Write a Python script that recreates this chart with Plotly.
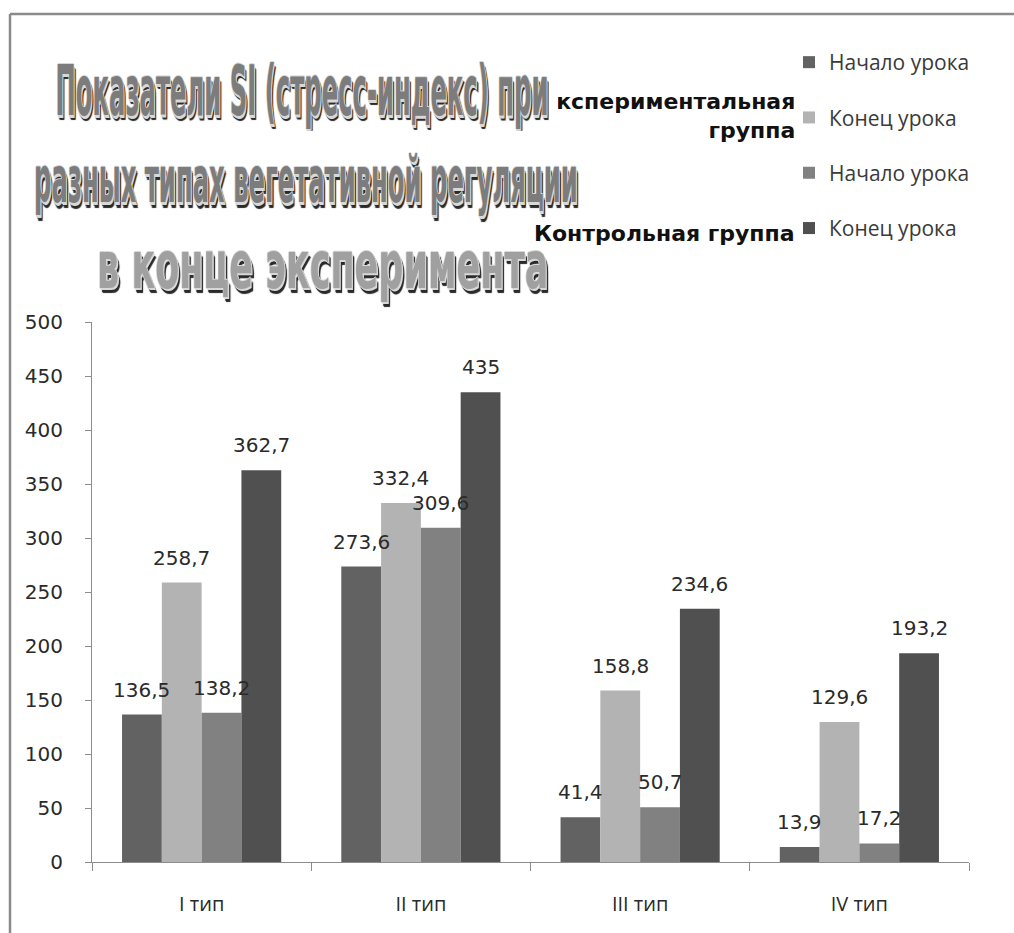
import plotly.graph_objects as go

# --- data -------------------------------------------------------------
categories = ["I тип", "II тип", "III тип", "IV тип"]
exp_start = [136.5, 273.6, 41.4, 13.9]     # Экспериментальная группа, начало урока
exp_end = [258.7, 332.4, 158.8, 129.6]     # Экспериментальная группа, конец урока
ctrl_start = [138.2, 309.6, 50.7, 17.2]    # Контрольная группа, начало урока
ctrl_end = [362.7, 435, 234.6, 193.2]      # Контрольная группа, конец урока
series_names = ["Начало урока", "Конец урока", "Начало урока", "Конец урока"]
y_ticks = [0, 50, 100, 150, 200, 250, 300, 350, 400, 450, 500]

title_lines = [
    "Показатели SI (стресс-индекс) при",
    "разных типах вегетативной регуляции",
    "в конце эксперимента",
]
group_labels = ["Экспериментальная<br>группа", "Контрольная группа"]

# --- layout geometry (pixels) ------------------------------------------
W, H = 1014, 933
PL, PR, PT, PB = 92, 969, 322, 862          # plot area box
BARGAP = 0.274


def px_x(px):
    return (px - PL) / (PR - PL)


def px_y(py):
    return (PB - py) / (PB - PT)


colors = ["#626262", "#b3b3b3", "#818181", "#505050"]
series = [exp_start, exp_end, ctrl_start, ctrl_end]

fig = go.Figure()
for i, (vals, name) in enumerate(zip(series, series_names)):
    fig.add_trace(go.Bar(
        x=categories, y=vals, name=name,
        marker=dict(color=colors[i], line=dict(width=0)),
        legendgroup=f"g{i}",
    ))

annotations = []

# value labels above each bar
cat_w = (PR - PL) / len(categories)
bar_w = cat_w * (1 - BARGAP) / len(series)
label_font = dict(family="DejaVu Sans", size=20, color="#2a2a2a")
for i, vals in enumerate(series):
    shift = (i - 1.5) * bar_w
    for c, v in zip(categories, vals):
        txt = f"{v:g}".replace(".", ",")
        annotations.append(dict(
            x=c, y=v, xref="x", yref="y", text=txt, showarrow=False,
            xshift=shift, yshift=25, yanchor="middle", xanchor="center",
            font=label_font,
        ))

# group captions beside the legend
group_font = dict(family="DejaVu Sans", size=22, color="#111111", weight="bold")
annotations.append(dict(
    x=px_x(797), y=px_y(116), xref="paper", yref="paper",
    text=group_labels[0], showarrow=False, xanchor="right", yanchor="middle",
    align="right", font=group_font,
))
annotations.append(dict(
    x=px_x(797), y=px_y(233), xref="paper", yref="paper",
    text=group_labels[1], showarrow=False, xanchor="right", yanchor="middle",
    align="right", font=group_font,
))

# decorative title block
outline = ("1px 0 0 #d8d8d8, -1px 0 0 #d8d8d8, 0 1px 0 #d8d8d8, 0 -1px 0 #d8d8d8, "
           "2px 2px 0 #d8d8d8, 3px 3px 1px #2a2a2a, 4px 4px 1px #2a2a2a")
title_specs = [
    (title_lines[0], 302, 90, "DejaVu Sans Condensed", 27, "#7c7c7c"),
    (title_lines[1], 306, 180, "DejaVu Sans Condensed", 27, "#7c7c7c"),
    (title_lines[2], 322, 265, "DejaVu Sans", 35, "#a0a0a0"),
]
for text, cx, cy, fam, size, col in title_specs:
    extra = {}
    if text == title_lines[0]:
        extra = dict(bgcolor="white", width=494, borderpad=8)
    annotations.append(dict(
        x=px_x(cx), y=px_y(cy), xref="paper", yref="paper", text=text,
        showarrow=False, xanchor="center", yanchor="middle",
        font=dict(family=fam, size=size, color=col, weight="bold", shadow=outline),
        **extra,
    ))

# outer chart frame (top and left edges visible)
frame = dict(color="#8a8a8a", width=2.5)
shapes = [
    dict(type="line", xref="paper", yref="paper",
         x0=px_x(10), x1=px_x(1014), y0=px_y(14), y1=px_y(14), line=frame),
    dict(type="line", xref="paper", yref="paper",
         x0=px_x(10), x1=px_x(10), y0=px_y(14), y1=px_y(933), line=frame),
]

fig.update_layout(
    width=W, height=H,
    margin=dict(l=PL, r=W - PR, t=PT, b=H - PB, pad=0),
    paper_bgcolor="white", plot_bgcolor="white",
    barmode="group", bargap=BARGAP, bargroupgap=0,
    showlegend=True,
    legend=dict(
        x=px_x(789), y=px_y(42), xanchor="left", yanchor="top",
        traceorder="grouped", tracegroupgap=25,
        font=dict(family="Open Sans", size=21, color="#3a3a3a"),
        itemwidth=30, bgcolor="rgba(0,0,0,0)",
    ),
    annotations=annotations,
    shapes=shapes,
    xaxis=dict(
        showline=True, linecolor="#8c8c8c", linewidth=1,
        ticks="outside", tickson="boundaries", ticklen=8, tickcolor="#8c8c8c",
        tickfont=dict(family="Open Sans", size=20, color="#2a2a2a"),
        ticklabelstandoff=24, showgrid=False, zeroline=False,
    ),
    yaxis=dict(
        range=[0, 500], tickvals=y_ticks,
        showline=True, linecolor="#8c8c8c", linewidth=1,
        ticks="outside", ticklen=6, tickcolor="#8c8c8c",
        tickfont=dict(family="DejaVu Sans", size=20, color="#2a2a2a"),
        ticklabelstandoff=18, showgrid=False, zeroline=False,
    ),
)

# Stretch the title lines vertically, WordArt style.
stretch_js = """
var gd = document.getElementById('{plot_id}');
var factors = {%s: 2.6, %s: 2.4, %s: 1.9};
function stretchTitles() {
  gd.querySelectorAll('g.annotation').forEach(function (g) {
    var idx = g.getAttribute('data-index');
    if (!(idx in factors)) return;
    var t = g.querySelector('text.annotation-text');
    if (!t) return;
    t.removeAttribute('transform');
    var b = t.getBBox();
    var cx = b.x + b.width / 2, cy = b.y + b.height / 2;
    t.setAttribute('transform', 'translate(' + cx + ',' + cy + ') scale(1,' +
      factors[idx] + ') translate(' + (-cx) + ',' + (-cy) + ')');
  });
}
stretchTitles();
gd.on('plotly_afterplot', stretchTitles);
""" % (len(annotations) - 3, len(annotations) - 2, len(annotations) - 1)

fig.write_html("out.html", post_script=stretch_js)
